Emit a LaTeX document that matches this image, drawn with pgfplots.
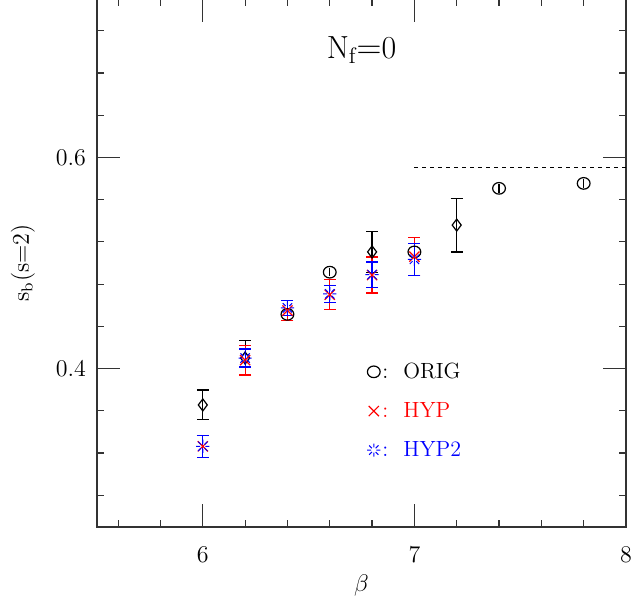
\documentclass[border=0pt]{standalone}
\usepackage{fontspec}
\usepackage{pgfplots}
\pgfplotsset{compat=1.18}

% 8-armed broken star used for HYP2
\pgfdeclareplotmark{hyptwo}{%
  \foreach \a in {0,45,...,315}{%
    \pgfpathmoveto{\pgfpointpolar{\a}{0.4\pgfplotmarksize}}%
    \pgfpathlineto{\pgfpointpolar{\a}{\pgfplotmarksize}}%
  }%
  \pgfusepathqstroke}

\begin{document}
\begin{tikzpicture}
\begin{axis}[
  scale only axis, width=264.5pt, height=264pt,
  xmin=5.5, xmax=8, ymin=0.25, ymax=0.75,
  xtick={6,7,8}, ytick={0.4,0.6},
  minor xtick={5.6,5.8,6.2,6.4,6.6,6.8,7.2,7.4,7.6,7.8},
  minor ytick={0.28,0.32,0.36,0.44,0.48,0.52,0.56,0.64,0.68,0.72},
  tick align=inside,
  major tick length=11.5pt, minor tick length=3.5pt,
  every tick/.style={black!80, line width=0.6pt},
  axis line style={black!80, line width=0.6pt},
  tick label style={font=\fontsize{11.5}{13}\selectfont},
  xticklabel style={yshift=-6.5pt},
  yticklabel style={xshift=-2pt, /pgf/number format/fixed,
    /pgf/number format/precision=1, /pgf/number format/fixed zerofill},
  clip=false,
  legend style={draw=none, fill=none, inner sep=0pt, at={(axis cs:6.775,0.36)}, anchor=west,
    row sep=8.5pt, font=\fontsize{11}{13}\selectfont,
    nodes={inner sep=1pt}},
  legend cell align=left,
  legend image code/.code={\draw[#1] plot coordinates {(0pt,0pt)};},
]
% ORIG, circles
\addplot+[black, only marks, mark=o, mark size=2.9pt, line width=0.6pt,
  mark options={xscale=1.1},
  error bars/.cd, y dir=both, y explicit, error mark=none,
  error bar style={line width=0.6pt}]
  coordinates {
  (6.4,0.4514) +- (0,0.004)
  (6.6,0.4913) +- (0,0.004)
  (7.0,0.5105) +- (0,0.005)
  (7.4,0.5707) +- (0,0.004)
  (7.8,0.5754) +- (0,0.004)
};
\addlegendentry{:\hspace{7.5pt}ORIG}
% ORIG, diamonds
\addplot+[black, only marks, mark=diamond, mark size=3pt, line width=0.6pt, forget plot,
  error bars/.cd, y dir=both, y explicit,
  error bar style={line width=0.6pt},
  error mark options={rotate=90, mark size=3pt, line width=0.6pt}]
  coordinates {
  (6.0,0.3656) +- (0,0.0141)
  (6.2,0.4100) +- (0,0.0165)
  (6.8,0.5105) +- (0,0.0195)
  (7.2,0.5359) +- (0,0.0255)
};
% HYP
\addplot+[red, only marks, mark=x, mark size=3.6pt, line width=0.6pt,
  error bars/.cd, y dir=both, y explicit,
  error bar style={line width=0.6pt},
  error mark options={rotate=90, mark size=3pt, line width=0.6pt}]
  coordinates {
  (6.0,0.3264) +- (0,0.0105)
  (6.2,0.4080) +- (0,0.0140)
  (6.4,0.4550) +- (0,0.0095)
  (6.6,0.4700) +- (0,0.0142)
  (6.8,0.4886) +- (0,0.0170)
  (7.0,0.5060) +- (0,0.0180)
};
\addlegendentry{\textcolor{red}{:\hspace{7.5pt}HYP}}
% HYP2
\addplot+[blue, only marks, mark=hyptwo, mark size=3.3pt, line width=0.5pt,
  error bars/.cd, y dir=both, y explicit,
  error bar style={line width=0.6pt},
  error mark options={rotate=90, mark size=3pt, line width=0.6pt}]
  coordinates {
  (6.0,0.3264) +- (0,0.0105)
  (6.2,0.4100) +- (0,0.0085)
  (6.4,0.4575) +- (0,0.0072)
  (6.6,0.4708) +- (0,0.0080)
  (6.8,0.4890) +- (0,0.0120)
  (7.0,0.5035) +- (0,0.0150)
};
\addlegendentry{\textcolor{blue}{:\hspace{7.5pt}HYP2}}
% continuum value
\addplot[black, dashed, dash pattern=on 2pt off 2pt, line width=0.5pt, forget plot]
  coordinates {(7.0,0.59) (8.0,0.59)};

\node[anchor=base, font=\fontsize{16}{19}\selectfont] at (axis description cs:0.5,0.888) {$\mathrm{N_f{=}0}$};
\node[rotate=90, font=\fontsize{12}{14}\selectfont] at (axis description cs:-0.14,0.5) {$\mathrm{s_b(s{=}2)}$};
\node[font=\fontsize{12}{14}\selectfont] at (axis description cs:0.5,-0.11) {$\beta$};
\end{axis}
\pgfresetboundingbox
\useasboundingbox ([shift={(-48.5pt,-37.5pt)}]current axis.south west) rectangle ([shift={(3pt,-0.5pt)}]current axis.north east);
\end{tikzpicture}
\end{document}
